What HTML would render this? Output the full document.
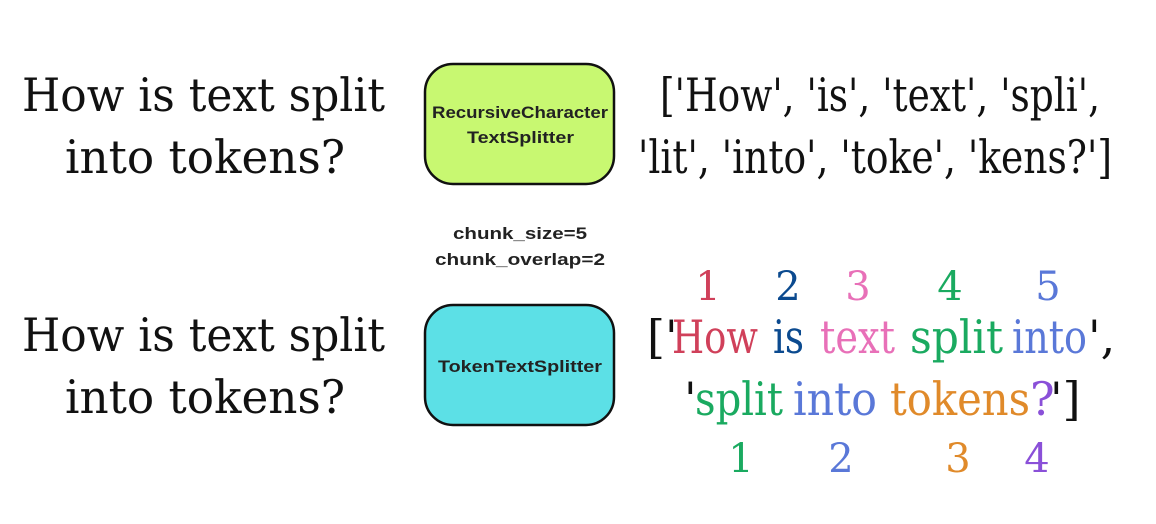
<!DOCTYPE html>
<html><head><meta charset="utf-8"><style>
html,body{margin:0;padding:0;background:#fff;width:1156px;height:524px;overflow:hidden}
.s{font-family:"DejaVu Serif","Liberation Serif",serif;font-size:46px}
.b{font-family:"Liberation Sans","DejaVu Sans",sans-serif;font-size:17px;font-weight:bold;fill:#222}
</style></head><body>
<svg width="1156" height="524" xmlns="http://www.w3.org/2000/svg">
<g class="s" fill="#111">
<text x="22" y="111" textLength="363" lengthAdjust="spacingAndGlyphs">How is text split</text>
<text x="65" y="173" textLength="280" lengthAdjust="spacingAndGlyphs">into tokens?</text>
<text x="22" y="351" textLength="363" lengthAdjust="spacingAndGlyphs">How is text split</text>
<text x="65" y="413" textLength="280" lengthAdjust="spacingAndGlyphs">into tokens?</text>
<text x="660" y="111" textLength="440" lengthAdjust="spacingAndGlyphs">['How', 'is', 'text', 'spli',</text>
<text x="638" y="173" textLength="474" lengthAdjust="spacingAndGlyphs">'lit', 'into', 'toke', 'kens?']</text>
</g>
<rect x="425" y="64" width="189" height="120" rx="28" fill="#c8f871" stroke="#111" stroke-width="2.5"/>
<rect x="425" y="305" width="189" height="120" rx="28" fill="#5ce0e6" stroke="#111" stroke-width="2.5"/>
<text class="b" x="432" y="118" textLength="176" lengthAdjust="spacingAndGlyphs">RecursiveCharacter</text>
<text class="b" x="467" y="143" textLength="107" lengthAdjust="spacingAndGlyphs">TextSplitter</text>
<text class="b" x="438" y="372" textLength="164" lengthAdjust="spacingAndGlyphs">TokenTextSplitter</text>
<text class="b" x="453" y="239" textLength="134" lengthAdjust="spacingAndGlyphs">chunk_size=5</text>
<text class="b" x="435" y="265" textLength="170" lengthAdjust="spacingAndGlyphs">chunk_overlap=2</text>
<g class="s" text-anchor="middle" style="font-size:40px">
<text x="708" y="300" fill="#d0405a">1</text>
<text x="788" y="300" fill="#0b4a8f">2</text>
<text x="858" y="300" fill="#e870b8">3</text>
<text x="950" y="300" fill="#1aaa60">4</text>
<text x="1048" y="300" fill="#5a78d8">5</text>
<text x="741" y="472" fill="#1aaa60">1</text>
<text x="841" y="472" fill="#5a78d8">2</text>
<text x="958" y="472" fill="#e08a2a">3</text>
<text x="1037" y="472" fill="#8a50d8">4</text>
</g>
<g class="s">
<text x="647" y="353" fill="#111">['</text>
<text x="672" y="353" fill="#d0405a" textLength="86" lengthAdjust="spacingAndGlyphs">How</text>
<text x="773" y="353" fill="#0b4a8f" textLength="31" lengthAdjust="spacingAndGlyphs">is</text>
<text x="820" y="353" fill="#e870b8" textLength="75" lengthAdjust="spacingAndGlyphs">text</text>
<text x="910" y="353" fill="#1aaa60" textLength="93" lengthAdjust="spacingAndGlyphs">split</text>
<text x="1012" y="353" fill="#5a78d8" textLength="75" lengthAdjust="spacingAndGlyphs">into</text>
<text x="1088" y="353" fill="#111">',</text>
<text x="684" y="415" fill="#111">'</text>
<text x="695" y="415" fill="#1aaa60" textLength="88" lengthAdjust="spacingAndGlyphs">split</text>
<text x="793" y="415" fill="#5a78d8" textLength="84" lengthAdjust="spacingAndGlyphs">into</text>
<text x="890" y="415" fill="#e08a2a" textLength="140" lengthAdjust="spacingAndGlyphs">tokens</text>
<text x="1030" y="415" fill="#8a50d8">?</text>
<text x="1050" y="415" fill="#111">']</text>
</g>
</svg>
</body></html>
